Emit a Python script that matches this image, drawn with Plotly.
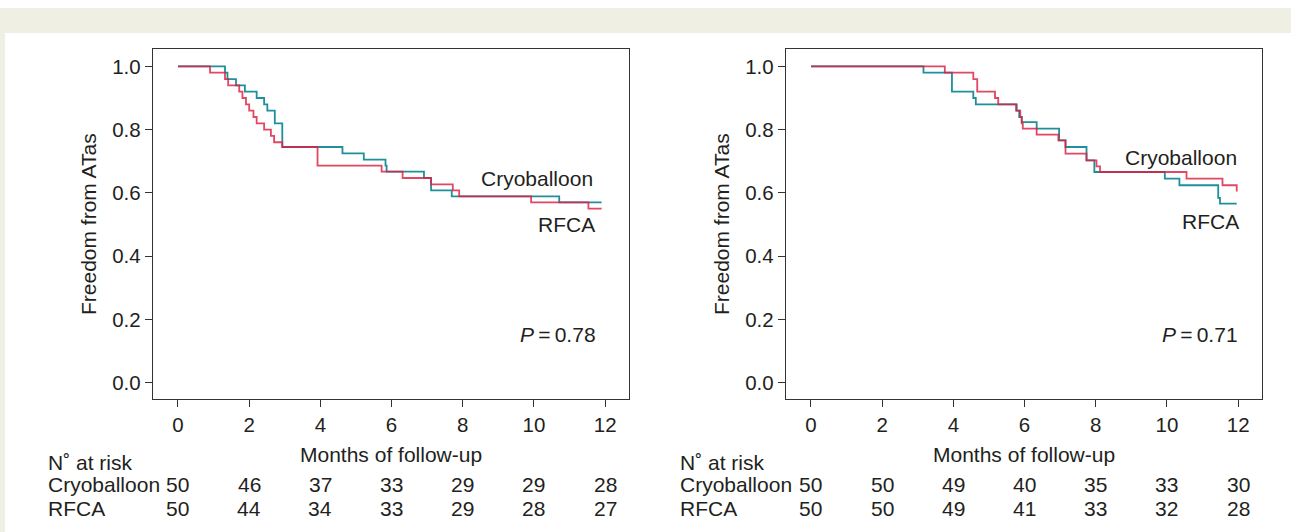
import plotly.graph_objects as go

W, H = 1291, 532

# ---------------- data ----------------
months_ticks = [0, 2, 4, 6, 8, 10, 12]
y_ticks = [0.0, 0.2, 0.4, 0.6, 0.8, 1.0]

left_cryo_t = [0, 1.32, 1.39, 1.63, 1.88, 2.21, 2.42, 2.51, 2.72, 2.93, 4.62, 5.22, 5.83, 5.86, 6.91, 7.11, 7.69, 10.71, 11.90]
left_cryo_s = [1.0, 0.98, 0.96, 0.94, 0.92, 0.90, 0.88, 0.86, 0.82, 0.745, 0.725, 0.705, 0.686, 0.667, 0.647, 0.608, 0.589, 0.570, 0.570]
left_rfca_t = [0, 0.90, 1.32, 1.41, 1.72, 1.81, 1.91, 2.00, 2.12, 2.21, 2.42, 2.61, 2.70, 2.93, 3.92, 5.72, 6.31, 7.11, 7.72, 7.90, 9.92, 11.53, 11.90]
left_rfca_s = [1.0, 0.98, 0.96, 0.94, 0.92, 0.90, 0.88, 0.86, 0.84, 0.82, 0.80, 0.78, 0.76, 0.745, 0.686, 0.667, 0.647, 0.627, 0.608, 0.589, 0.570, 0.550, 0.550]

right_cryo_t = [0, 3.16, 3.96, 4.56, 4.63, 5.78, 5.85, 5.92, 6.34, 6.97, 7.15, 7.74, 7.96, 9.94, 10.35, 11.44, 11.49, 11.96]
right_cryo_s = [1.0, 0.98, 0.92, 0.90, 0.88, 0.86, 0.84, 0.824, 0.803, 0.766, 0.745, 0.703, 0.666, 0.645, 0.624, 0.584, 0.566, 0.566]
right_rfca_t = [0, 3.76, 4.56, 4.67, 5.17, 5.26, 5.76, 5.88, 5.92, 5.95, 6.34, 6.95, 7.15, 7.74, 8.02, 8.12, 10.55, 11.56, 11.96, 11.96]
right_rfca_s = [1.0, 0.98, 0.96, 0.92, 0.90, 0.88, 0.86, 0.84, 0.82, 0.803, 0.784, 0.766, 0.724, 0.703, 0.684, 0.666, 0.645, 0.624, 0.624, 0.604]

left_risk_cryo = [50, 46, 37, 33, 29, 29, 28]
left_risk_rfca = [50, 44, 34, 33, 29, 28, 27]
right_risk_cryo = [50, 50, 49, 40, 35, 33, 30]
right_risk_rfca = [50, 50, 49, 41, 33, 32, 28]

p_left = "0.78"
p_right = "0.71"

group_names = ["Cryoballoon", "RFCA"]

# ---------------- style ----------------
FONT = "Liberation Sans, Arial, Helvetica, sans-serif"
FS = 21
FS_TICK = 20.5
TXT = "#231f20"
AX = "#333333"
TEAL = "#1f8f9b"
RED = "#dc1f42"
BEIGE = "#efefe4"

def px_x(p):
    return p / W

def px_y(p):
    return 1 - p / H

# plot boxes in pixels
L_x0, L_x1 = 153, 629
R_x0, R_x1 = 786, 1262
Y0, Y1 = 49, 399
XR = [-0.702, 12.67]
YR = [-0.052, 1.055]

fig = go.Figure()

def add_curve(t, s, color, xa, ya, opacity=1.0):
    fig.add_trace(go.Scatter(x=t, y=s, mode="lines", line=dict(color=color, width=1.8, shape="hv"),
                             opacity=opacity, xaxis=xa, yaxis=ya, showlegend=False, hoverinfo="skip"))

add_curve(left_cryo_t, left_cryo_s, TEAL, "x", "y")
add_curve(left_rfca_t, left_rfca_s, RED, "x", "y", 0.82)
add_curve(right_cryo_t, right_cryo_s, TEAL, "x2", "y2")
add_curve(right_rfca_t, right_rfca_s, RED, "x2", "y2", 0.82)

axis_common = dict(showline=True, mirror=True, linecolor=AX, linewidth=1.4, ticks="outside",
                   ticklen=7, tickwidth=1.3, tickcolor=AX, showgrid=False, zeroline=False,
                   tickfont=dict(family=FONT, size=FS_TICK, color=TXT))

fig.update_layout(
    width=W, height=H,
    margin=dict(l=0, r=0, t=0, b=0),
    paper_bgcolor="white", plot_bgcolor="white",
    xaxis=dict(domain=[px_x(L_x0), px_x(L_x1)], range=XR, tickvals=months_ticks, anchor="y", **axis_common),
    yaxis=dict(domain=[px_y(Y1), px_y(Y0)], range=YR, tickvals=y_ticks, tickformat=".1f", anchor="x", **axis_common),
    xaxis2=dict(domain=[px_x(R_x0), px_x(R_x1)], range=XR, tickvals=months_ticks, anchor="y2", **axis_common),
    yaxis2=dict(domain=[px_y(Y1), px_y(Y0)], range=YR, tickvals=y_ticks, tickformat=".1f", anchor="x2", **axis_common),
)

# background decoration
fig.add_shape(type="rect", xref="paper", yref="paper", x0=0, x1=1, y0=px_y(33), y1=px_y(8),
              fillcolor=BEIGE, line=dict(width=0), layer="below")
fig.add_shape(type="rect", xref="paper", yref="paper", x0=0, x1=px_x(5), y0=0, y1=px_y(33),
              fillcolor=BEIGE, line=dict(width=0), layer="below")

def ann(text, x, y, xref="paper", yref="paper", xanchor="center", yanchor="middle", angle=0):
    fig.add_annotation(text=text, x=x, y=y, xref=xref, yref=yref, xanchor=xanchor, yanchor=yanchor,
                       showarrow=False, textangle=angle, font=dict(family=FONT, size=FS, color=TXT))

# (axis, box x0, box x1, risk cryo, risk rfca, p, cryo label (right px, y px), rfca label, p label, table left px)
panels = [
    ("x", L_x0, L_x1, left_risk_cryo, left_risk_rfca, p_left, (595, 178), (597, 225), (598, 334), 46),
    ("x2", R_x0, R_x1, right_risk_cryo, right_risk_rfca, p_right, (1239, 157), (1241, 221), (1240, 334), 678),
]
for xa, x0, x1, rc, rr, pv, cpos, rpos, ppos, lab_x in panels:
    cx = (x0 + x1) / 2
    ann("Freedom from ATas", px_x(x0 - 65), px_y((Y0 + Y1) / 2), angle=-90)
    ann("Months of follow-up", px_x(cx), px_y(454))
    ann(group_names[0], px_x(cpos[0]), px_y(cpos[1]), xanchor="right")
    ann(group_names[1], px_x(rpos[0]), px_y(rpos[1]), xanchor="right")
    ann("<i>P</i>\u2009=\u2009" + pv, px_x(ppos[0]), px_y(ppos[1]), xanchor="right")
    ann("N\u02da at risk", px_x(lab_x), px_y(462), xanchor="left")
    ann(group_names[0], px_x(lab_x), px_y(484), xanchor="left")
    ann(group_names[1], px_x(lab_x), px_y(508), xanchor="left")
    for m, a, b in zip(months_ticks, rc, rr):
        ann(str(a), m, px_y(484), xref=xa)
        ann(str(b), m, px_y(508), xref=xa)

fig.write_html("out.html", config={"displayModeBar": False},
               post_script="document.body.style.margin='0';document.body.style.overflow='hidden';")
